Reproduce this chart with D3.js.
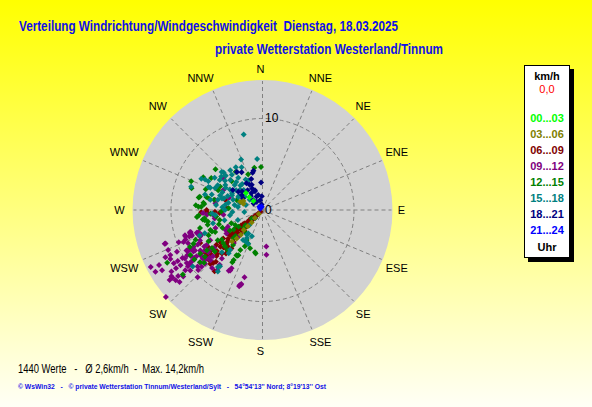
<!DOCTYPE html>
<html>
<head>
<meta charset="utf-8">
<script src="https://cdn.jsdelivr.net/npm/d3@7"></script>
<style>
  body { margin: 0; padding: 0; overflow: hidden; }
  svg { display: block; font-family: "Liberation Sans", Arial, sans-serif; }
  text { white-space: pre; }
</style>
</head>
<body>
<script>
// values: [direction in degrees, speed in km/h]
const hours0003 = [[315,1.4],[314,2.0],[316,2.6]];

const hours0306 = [[222,0.6],[223,1.2],[221,1.8],[222,2.4],[223,3.0],[221,3.6],[222,4.2],[224,4.8],[290,2.6],[295,2.3],[288,2.2]];

const hours0609 = [[228,0.3],[230,0.6],[226,0.9],[232,1.1],[229,1.4],[225,1.6],[233,1.8],[227,2.0],[230,2.3],[224,2.5],
  [234,2.6],[228,2.9],[226,3.1],[231,3.3],[223,3.5],[229,3.7],[235,3.8],[227,4.0],[225,4.3],[232,4.5],
  [222,4.7],[230,4.9],[228,5.1],[234,5.3],[224,5.5],[231,5.7],[226,5.9],[229,6.1],[233,6.3],[223,6.5],
  [228,6.7],[231,6.9],[225,7.1],[236,7.2],[229,7.4],[222,7.6],[233,7.8],[227,8.0],[242,7.7],[242,9.0],
  [223,7.9],[218,8.5],[268,6.7],[268,6.1],[285,4.2],[273,3.9],[266,4.7],[268,5.2],[270,6.1],[236,4.6],
  [220,6.2],[221,3.0],[219,5.4],[224,1.2],[231,2.1],[235,1.5],[227,0.8],[226,1.3],[233,2.4],[229,3.0],
  [236,3.4],[224,3.9],[232,4.1],[227,5.4],[233,5.8],[226,6.9],[232,7.3],[224,8.2],[230,7.7],[222,5.8],
  [229,4.4],[234,2.9],[230,1.0],[227,2.7]];

const hours0912 = [[253,8.2],[250,8.5],[249,9.0],[248,9.3],[251,11.3],[243,13.7],[242,12.8],[244,11.8],[244,11.2],[242,11.4],
  [239,11.3],[239,10.8],[234,12.3],[233,12.3],[233,12.7],[231,12.2],[230,11.3],[228,14.2],[224,10.2],[251,8.9],
  [251,8.2],[253,8.3],[246,8.9],[242,9.0],[239,9.6],[241,9.3],[227,9.1],[227,8.6],[218,7.6],[208,7.2],
  [217,8.2],[196,8.5],[197,8.7],[195,7.6],[174,4.0],[175,4.9],[249,7.5],[248,7.2],[249,9.8],[251,11.2],
  [209,7.6],[309,5.5],[297,4.8],[278,5.2],[282,5.3],[263,4.3],[265,6.1],[290,3.9],[239,8.6],[234,8.4],
  [235,7.7],[235,9.1],[228,7.8],[230,8.9],[234,9.6],[226,7.9],[242,8.0],[238,7.2],[231,8.4],[238,10.0],
  [236,10.8],[230,10.3],[232,10.7],[232,11.7],[252,8.9],[252,8.3],[250,8.2],[251,7.6],[251,7.4],[247,7.4],
  [235,10.1],[233,9.9],[208,7.5],[196,8.4],[197,8.6],[264,5.4],[260,5.3],[267,6.5],[242,4.6],[237,4.7],
  [244,4.2],[221,4.8],[222,3.9],[249,5.5],[236,8.1],[240,8.8],[229,9.4],[244,10.4],[233,7.0],[237,9.3],
  [242,8.5],[237,8.1],[232,7.5],[227,7.4],[238,7.5],[235,8.8],[234,9.7],[229,8.2],[232,6.7],[242,9.4],
  [239,10.2],[236,11.4],[236,12.0],[229,12.0],[239,12.8],[240,13.5],[227,9.6],[221,8.4],[220,6.9],[244,7.6],
  [240,6.6],[239,8.8],[233,10.2],[233,8.3],[247,11.2]];

const hours1215 = [[358,4.7],[338,4.2],[311,6.8],[292,8.4],[302,6.6],[282,7.0],[273,7.0],[277,6.5],[287,8.1],[281,7.1],
  [273,6.7],[276,6.4],[265,7.0],[266,5.7],[190,4.7],[210,5.7],[208,3.9],[215,3.1],[231,11.2],[241,11.9],
  [261,6.6],[262,6.4],[264,7.2],[209,5.7],[260,6.4],[258,6.1],[249,6.1],[247,6.0],[245,6.5],[244,8.4],
  [243,8.9],[235,8.3],[231,8.1],[234,7.5],[234,9.2],[230,8.9],[234,5.5],[230,5.6],[226,5.7],[238,4.2],
  [241,3.4],[247,3.7],[235,3.2],[208,3.7],[203,4.0],[206,4.4],[189,4.8],[208,5.6],[210,6.3],[257,4.8],
  [262,5.1],[268,4.5],[283,6.3],[282,6.0],[294,5.3],[299,5.3],[313,4.6],[291,3.0],[273,3.7],[299,7.4],
  [228,2.5],[232,1.5],[236,3.8],[226,4.4],[240,6.8],[252,5.0],[220,5.0],[229,6.9],[255,6.2],[245,5.7],
  [246,4.8],[254,7.1],[246,8.0],[233,6.9],[236,5.9],[221,5.8],[209,5.0],[198,4.4],[210,6.6],[282,5.4],
  [290,6.6],[274,7.3],[325,5.1],[349,4.7],[228,8.6],[238,9.3],[226,2.8],[226,4.1]];

const hours1518 = [[346,8.5],[337,6.0],[334,5.2],[354,5.6],[328,5.5],[314,5.9],[309,5.8],[288,8.2],[297,7.5],[298,6.7],
  [293,6.4],[331,3.8],[304,4.9],[302,4.2],[312,4.1],[312,3.3],[292,4.1],[294,4.8],[289,3.4],[307,2.4],
  [323,4.4],[313,4.8],[295,5.7],[283,5.0],[278,4.1],[266,5.5],[264,5.2],[221,2.2],[202,3.1],[209,3.5],
  [208,3.9],[218,7.9],[231,9.8],[222,1.2],[211,3.0],[219,5.6],[218,6.0],[224,6.4],[217,7.7],[216,8.3],
  [248,6.8],[248,7.4],[255,5.6],[213,3.9],[212,3.2],[203,4.0],[281,5.8],[285,6.5],[270,4.1],[266,3.3],
  [277,2.7],[304,6.3],[326,5.0],[300,3.0],[318,3.6],[286,4.6],[308,5.2],[296,3.7],[305,5.7],[313,5.5],
  [319,5.1],[317,4.2],[322,3.6],[317,3.0],[301,4.7],[289,4.9],[299,3.8],[298,3.0],[287,2.6],[282,3.8],
  [274,4.4],[276,5.1],[287,5.8],[299,5.6],[321,5.6],[313,6.1],[334,3.6],[280,3.1],[287,1.9],[309,1.8],
  [287,4.4],[307,3.6],[293,6.2],[298,7.1],[261,3.6],[248,2.9],[264,2.0],[255,4.3]];

const hours1821 = [[357,3.0],[326,5.0],[345,4.2],[337,3.0],[339,2.3],[323,2.7],[331,4.7],[347,4.4],[329,3.4],[333,3.1],
  [334,2.6],[338,2.2],[344,1.7],[357,1.5],[304,3.9],[307,3.3],[306,2.8],[325,1.1],[306,1.2],[301,2.5],
  [327,2.2],[336,1.6],[346,1.1],[317,1.5],[351,0.6],[320,2.0],[312,3.0],[340,3.6]];

const hours2124 = [[330,0.3],[315,0.5],[345,0.4],[300,0.3]];

const hourLabels = ["00...03", "03...06", "06...09", "09...12", "12...15", "15...18", "18...21", "21...24"];
const hourColors = ["#00ff00", "#808000", "#800000", "#800080", "#008000", "#008080", "#000080", "#0000ff"];
const hourSeries = [hours0003, hours0306, hours0609, hours0912, hours1215, hours1518, hours1821, hours2124];
// drawing order: day in time order, the thin night streaks on top
const drawOrder = [2, 3, 4, 5, 6, 7, 1, 0];

const directions = ["N","NNE","NE","ENE","E","ESE","SE","SSE","S","SSW","SW","WSW","W","WNW","NW","NNW"];
const ringTicks = [0, 10];
const maxSpeed = 14.2;
const calmValue = "0,0";

const title = "Verteilung Windrichtung/Windgeschwindigkeit  Dienstag, 18.03.2025";
const subtitle = "private Wetterstation Westerland/Tinnum";
const summary = "1440 Werte   -   \u00d8 2,6km/h  -  Max. 14,2km/h";
const credits = "\u00a9 WsWin32   -   \u00a9 private Wetterstation Tinnum/Westerland/Sylt   -   54\u00b054'13'' Nord; 8\u00b019'13'' Ost";

const width = 592;
const height = 407;
const cx = 262.5;
const cy = 210;
const outerRadius = 130;
const labelRadius = 141;

const svg = d3.select("body").append("svg")
      .attr("width", width)
      .attr("height", height);

const grad = svg.append("defs").append("linearGradient")
      .attr("id", "bg")
      .attr("x1", 0).attr("y1", 0).attr("x2", 0).attr("y2", 1);
grad.append("stop").attr("offset", "0%").attr("stop-color", "#ffff00");
grad.append("stop").attr("offset", "100%").attr("stop-color", "#fffff6");

svg.append("rect")
      .attr("width", width)
      .attr("height", height)
      .attr("fill", "url(#bg)");

// titles
svg.append("text")
      .attr("x", 19).attr("y", 30.5)
      .attr("textLength", 379).attr("lengthAdjust", "spacingAndGlyphs")
      .style("font-size", "14px").style("font-weight", "bold")
      .attr("fill", "#1010e6")
      .text(title);

svg.append("text")
      .attr("x", 215).attr("y", 54.3)
      .attr("textLength", 228).attr("lengthAdjust", "spacingAndGlyphs")
      .style("font-size", "14px").style("font-weight", "bold")
      .attr("fill", "#1010e6")
      .text(subtitle);

// polar plot
const rScale = d3.scaleLinear()
      .domain([0, maxSpeed])
      .range([0, outerRadius]);

const angle = deg => deg * Math.PI / 180;
const px = (dir, r) => cx + r * Math.sin(angle(dir));
const py = (dir, r) => cy - r * Math.cos(angle(dir));

const plot = svg.append("g");

plot.append("circle")
      .attr("cx", cx).attr("cy", cy)
      .attr("r", outerRadius)
      .attr("fill", "#d2d2d2");

plot.selectAll(".spoke")
      .data(directions)
      .enter()
      .append("line")
      .attr("class", "spoke")
      .attr("x1", cx).attr("y1", cy)
      .attr("x2", (d, i) => px(i * 22.5, outerRadius - 1))
      .attr("y2", (d, i) => py(i * 22.5, outerRadius - 1))
      .attr("stroke", "#808080")
      .attr("stroke-dasharray", "4,3");

plot.selectAll(".ring")
      .data(ringTicks.filter(t => t > 0))
      .enter()
      .append("circle")
      .attr("class", "ring")
      .attr("cx", cx).attr("cy", cy)
      .attr("r", d => rScale(d))
      .attr("fill", "none")
      .attr("stroke", "#808080")
      .attr("stroke-dasharray", "4,3");

// compass labels sit a little wider for the longer names
plot.selectAll(".dirlabel")
      .data(directions)
      .enter()
      .append("text")
      .attr("class", "dirlabel")
      .attr("x", (d, i) => {
            const s = Math.sin(angle(i * 22.5));
            const push = Math.abs(s) < 0.01 ? 0 : Math.sign(s) * (d.length - 1) * 3;
            return cx - 2 + labelRadius * s + push;
      })
      .attr("y", (d, i) => {
            const s = Math.sin(angle(i * 22.5));
            return cy - (labelRadius + 11 * s * s) * Math.cos(angle(i * 22.5));
      })
      .attr("text-anchor", "middle")
      .attr("dominant-baseline", "central")
      .style("font-size", "11px")
      .attr("fill", "#000")
      .text(d => d);

const diamond = "M0,-3L3,0L0,3L-3,0Z";

drawOrder.forEach(i => {
      plot.append("g")
            .selectAll("path")
            .data(hourSeries[i])
            .enter()
            .append("path")
            .attr("d", diamond)
            .attr("transform", d => `translate(${px(d[0], rScale(d[1]))}, ${py(d[0], rScale(d[1]))})`)
            .attr("fill", hourColors[i]);
});

plot.selectAll(".ringlabel")
      .data(ringTicks)
      .enter()
      .append("text")
      .attr("class", "ringlabel")
      .attr("x", cx + 2.5)
      .attr("y", d => cy - rScale(d))
      .attr("dominant-baseline", "central")
      .style("font-size", "12px")
      .attr("fill", "#000")
      .text(d => d);

// legend
const legend = svg.append("g");

legend.append("rect")
      .attr("x", 528).attr("y", 69)
      .attr("width", 46).attr("height", 193)
      .attr("fill", "#000");

legend.append("rect")
      .attr("x", 524.5).attr("y", 65.5)
      .attr("width", 45).attr("height", 192)
      .attr("fill", "#fff")
      .attr("stroke", "#000");

legend.append("text")
      .attr("x", 547).attr("y", 76)
      .attr("text-anchor", "middle").attr("dominant-baseline", "central")
      .style("font-size", "11px").style("font-weight", "bold")
      .text("km/h");

legend.append("text")
      .attr("x", 547).attr("y", 88.5)
      .attr("text-anchor", "middle").attr("dominant-baseline", "central")
      .style("font-size", "11px")
      .attr("fill", "#ff0000")
      .text(calmValue);

legend.selectAll(".hour")
      .data(hourLabels)
      .enter()
      .append("text")
      .attr("class", "hour")
      .attr("x", 547)
      .attr("y", (d, i) => 118 + i * 16)
      .attr("text-anchor", "middle").attr("dominant-baseline", "central")
      .style("font-size", "11px").style("font-weight", "bold")
      .attr("fill", (d, i) => hourColors[i])
      .text(d => d);

legend.append("text")
      .attr("x", 547).attr("y", 246.5)
      .attr("text-anchor", "middle").attr("dominant-baseline", "central")
      .style("font-size", "11px").style("font-weight", "bold")
      .text("Uhr");

// footer
svg.append("text")
      .attr("x", 18).attr("y", 373.3)
      .attr("textLength", 186).attr("lengthAdjust", "spacingAndGlyphs")
      .style("font-size", "12px")
      .attr("fill", "#000")
      .text(summary);

svg.append("text")
      .attr("x", 18).attr("y", 388.5)
      .attr("textLength", 308).attr("lengthAdjust", "spacingAndGlyphs")
      .style("font-size", "8px").style("font-weight", "bold")
      .attr("fill", "#1010e6")
      .text(credits);
</script>
</body>
</html>
